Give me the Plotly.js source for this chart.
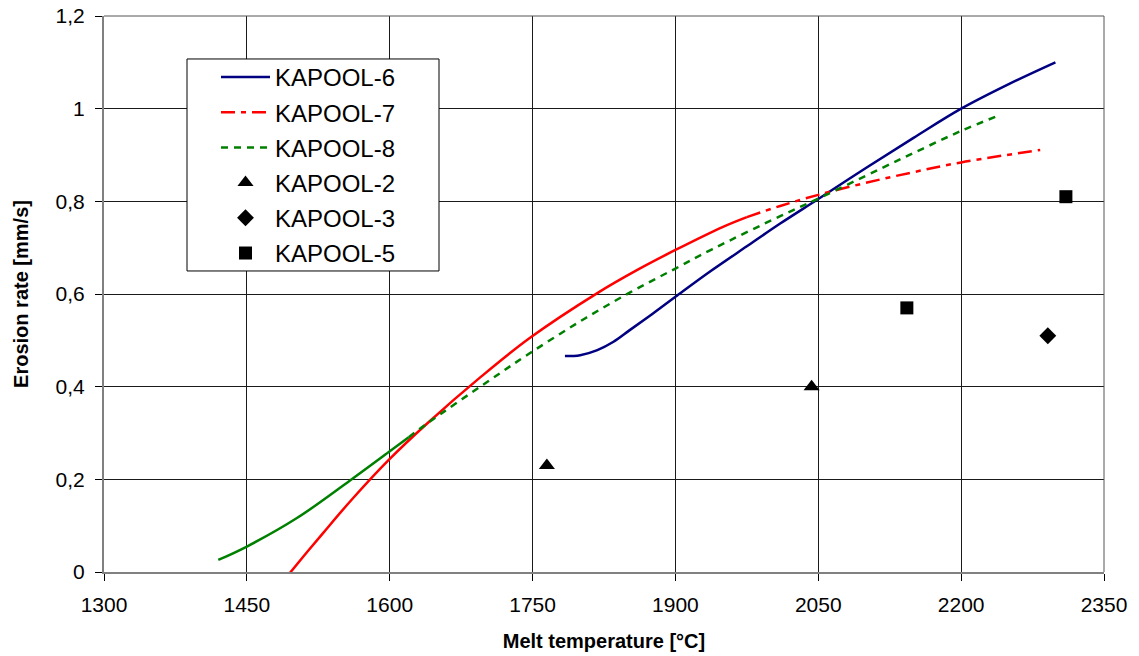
<!DOCTYPE html>
<html>
<head>
<meta charset="utf-8">
<script src="https://cdn.plot.ly/plotly-3.0.1.min.js"></script>
<style>html,body{margin:0;padding:0;background:#fff;}#chart{width:1139px;height:656px;}</style>
</head>
<body>
<div id="chart"></div>
<script>
// KAPOOL-6 (blue curve)
const k6T = [1784, 1800, 1818, 1835, 1852, 1875, 1900, 1936, 1975, 2010, 2050, 2100, 2150, 2200, 2250, 2299];
const k6E = [0.466, 0.468, 0.479, 0.497, 0.522, 0.556, 0.594, 0.648, 0.703, 0.752, 0.805, 0.872, 0.937, 1.000, 1.053, 1.100];
// KAPOOL-7 (red curve)
const k7T = [1492, 1510, 1530, 1560, 1599, 1639, 1695, 1747, 1818, 1860, 1900, 1950, 1975, 2010, 2050, 2100, 2150, 2200, 2283];
const k7E = [-0.01, 0.035, 0.084, 0.156, 0.242, 0.320, 0.420, 0.505, 0.602, 0.652, 0.695, 0.745, 0.766, 0.790, 0.814, 0.840, 0.863, 0.884, 0.911];
// KAPOOL-8 (green curve)
const k8T = [1420, 1450, 1503, 1558, 1599, 1620, 1639, 1705, 1747, 1800, 1852, 1900, 1939, 2010, 2050, 2115, 2160, 2200, 2238];
const k8E = [0.026, 0.055, 0.117, 0.197, 0.259, 0.291, 0.320, 0.414, 0.472, 0.541, 0.603, 0.655, 0.697, 0.768, 0.806, 0.870, 0.914, 0.952, 0.984];
// Experimental points
const k2T = [1765, 2043];
const k2E = [0.23, 0.40];
const k3T = [2291];
const k3E = [0.51];
const k5T = [2143, 2310];
const k5E = [0.57, 0.81];

const xTicks = [1300, 1450, 1600, 1750, 1900, 2050, 2200, 2350];
const yTicks = [0, 0.2, 0.4, 0.6, 0.8, 1.0, 1.2];

// split points where dense Excel curves look solid
const k7Split = k7T.indexOf(1975);
const k8Split = k8T.indexOf(1620);

const lw = 2.5;
const sp = {shape: 'spline', smoothing: 1};
const traces = [
  {x: k6T, y: k6E, name: 'KAPOOL-6', mode: 'lines', legendgroup: 'g6',
   line: Object.assign({color: '#000080', width: lw}, sp)},
  {x: k7T.slice(0, k7Split + 1), y: k7E.slice(0, k7Split + 1), mode: 'lines', showlegend: false, legendgroup: 'g7',
   line: Object.assign({color: '#FF0000', width: lw}, sp), hoverinfo: 'skip'},
  {x: k7T.slice(k7Split), y: k7E.slice(k7Split), name: 'KAPOOL-7', mode: 'lines', legendgroup: 'g7',
   line: Object.assign({color: '#FF0000', width: lw, dash: '14px,6px,5px,6px'}, sp)},
  {x: k8T.slice(0, k8Split + 1), y: k8E.slice(0, k8Split + 1), mode: 'lines', showlegend: false, legendgroup: 'g8',
   line: Object.assign({color: '#008000', width: lw}, sp), hoverinfo: 'skip'},
  {x: k8T.slice(k8Split), y: k8E.slice(k8Split), name: 'KAPOOL-8', mode: 'lines', legendgroup: 'g8',
   line: Object.assign({color: '#008000', width: lw, dash: '7px,6px'}, sp)},
  {x: k2T, y: k2E, name: 'KAPOOL-2', mode: 'markers', legendgroup: 'g2',
   marker: {symbol: 'triangle-up', size: 14, color: '#000'}},
  {x: k3T, y: k3E, name: 'KAPOOL-3', mode: 'markers', legendgroup: 'g3',
   marker: {symbol: 'diamond', size: 13, color: '#000'}},
  {x: k5T, y: k5E, name: 'KAPOOL-5', mode: 'markers', legendgroup: 'g5',
   marker: {symbol: 'square', size: 13, color: '#000'}}
];

const layout = {
  width: 1139, height: 656,
  margin: {l: 104, r: 35, t: 16, b: 84},
  paper_bgcolor: '#fff', plot_bgcolor: '#fff',
  separators: ', ',
  font: {family: '"Liberation Sans", Arial, sans-serif', size: 20, color: '#000'},
  showlegend: true,
  legend: {
    x: 0.112, y: 0.930, xanchor: 'left', yanchor: 'top',
    bgcolor: 'rgba(0,0,0,0)', borderwidth: 0,
    font: {size: 24, color: '#000'},
    traceorder: 'grouped', tracegroupgap: 1, itemwidth: 49
  },
  xaxis: {
    range: [1300, 2350], tickvals: xTicks, ticktext: xTicks.map(String),
    showgrid: true, gridcolor: '#1a1a1a', gridwidth: 1,
    showline: true, linecolor: '#808080', linewidth: 2, mirror: false,
    ticks: 'outside', ticklen: 7, tickcolor: '#000', zeroline: false,
    tickfont: {size: 21}, ticklabelstandoff: 6,
    title: {text: '<b>Melt temperature [°C]</b>', font: {size: 20}, standoff: 19}
  },
  yaxis: {
    range: [0, 1.2], tickvals: yTicks,
    showgrid: true, gridcolor: '#1a1a1a', gridwidth: 1,
    showline: true, linecolor: '#808080', linewidth: 2,
    ticks: 'outside', ticklen: 7, tickcolor: '#000', zeroline: false,
    tickfont: {size: 21}, ticklabelstandoff: 6,
    title: {text: '<b>Erosion rate [mm/s]</b>', font: {size: 20}, standoff: 22}
  },
  shapes: [
    {type: 'line', xref: 'paper', yref: 'paper', x0: 1, x1: 1, y0: 0, y1: 1, line: {color: '#555', width: 1}},
    {type: 'line', xref: 'paper', yref: 'paper', x0: 0, x1: 1, y0: 1, y1: 1, line: {color: '#555', width: 1}},
    // legend frame
    {type: 'rect', xref: 'paper', yref: 'paper', x0: 0.083, x1: 0.335, y0: 0.5414, y1: 0.9227,
     fillcolor: '#fff', line: {color: '#000', width: 1}, layer: 'above'}
  ]
};

Plotly.newPlot('chart', traces, layout, {displayModeBar: false, staticPlot: true});
</script>
</body>
</html>
